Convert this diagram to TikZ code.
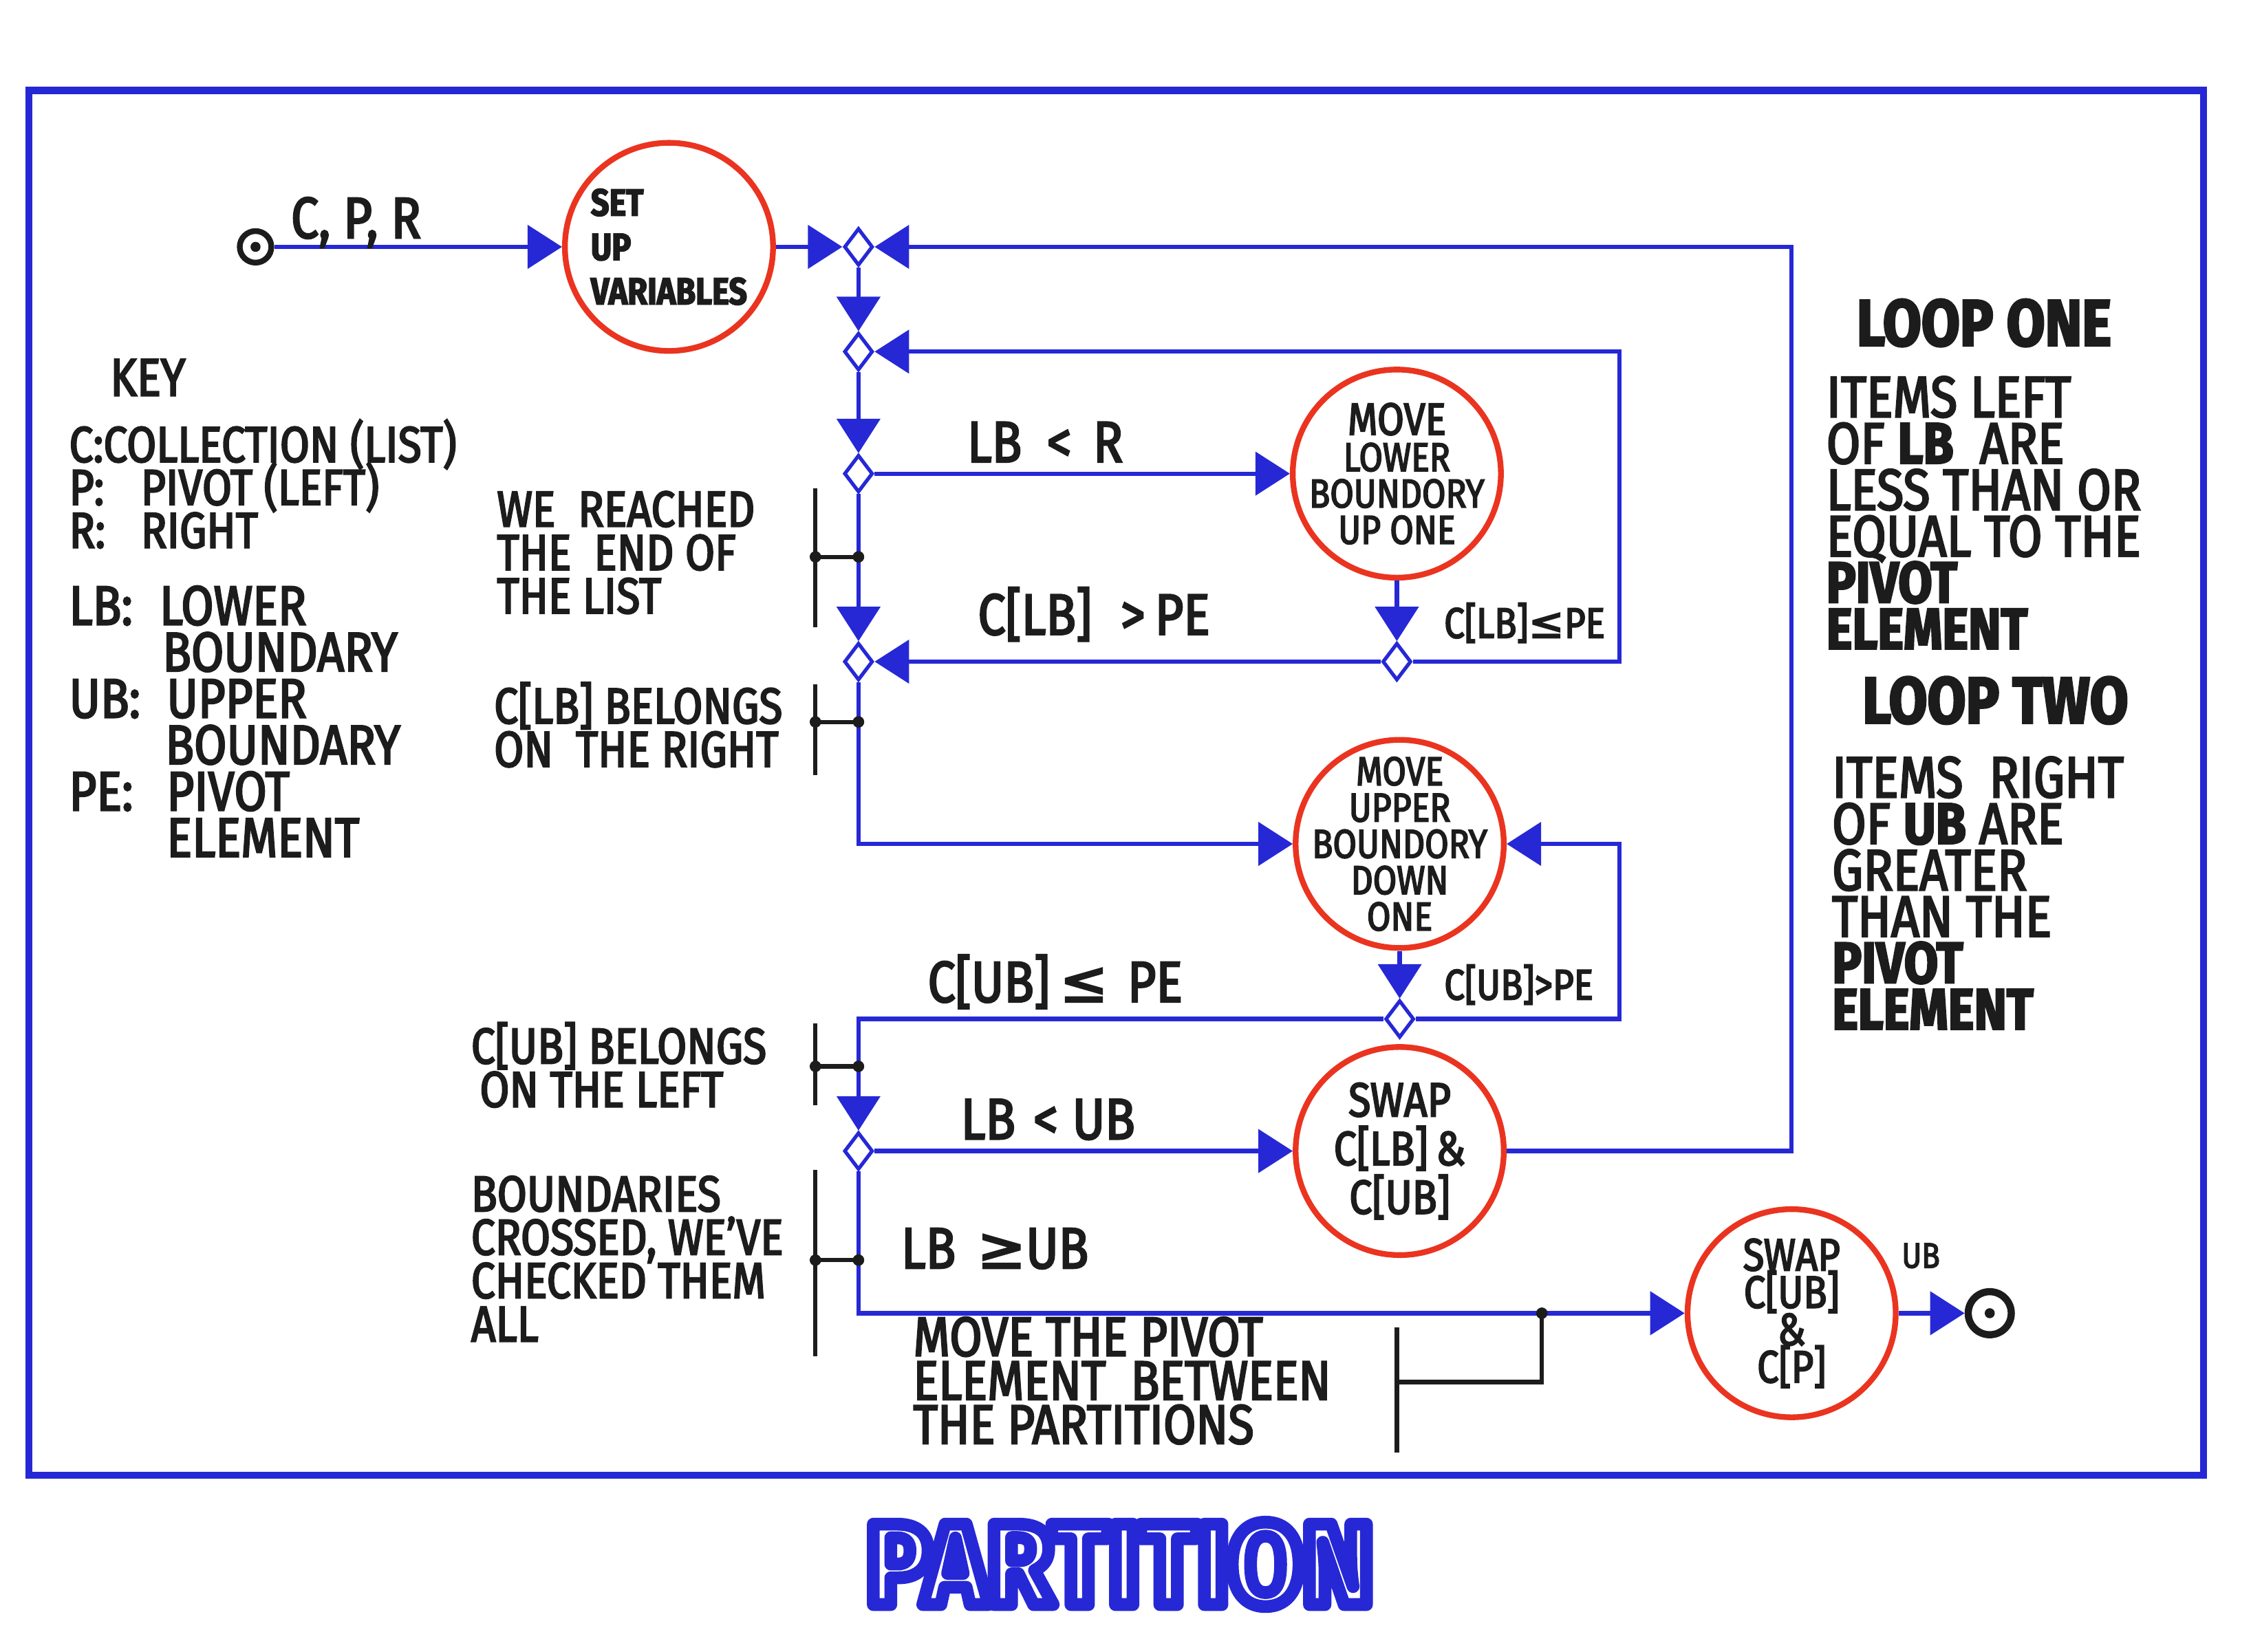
\documentclass[tikz,border=0pt]{standalone}
\usepackage{fontspec}
\setmainfont[FakeStretch=0.85, FakeBold=3]{Fira Sans}
\newfontfamily\symfont[FakeBold=3]{DejaVu Sans}
\newfontfamily\titlefont[FakeStretch=0.92, FakeBold=11]{Fira Sans}
\usetikzlibrary{shapes.geometric,arrows.meta,positioning}
\definecolor{penblue}{RGB}{38,40,214}
\definecolor{penred}{RGB}{234,52,32}
\definecolor{penink}{RGB}{28,28,28}
\newcommand{\leqs}{{\symfont ≤}}
\newcommand{\geqs}{{\symfont ≥}}
\setlength{\lineskiplimit}{-\maxdimen}
\tikzset{
  frame/.style={draw=penblue, line width=1mm},
  flow/.style={draw=penblue, line width=0.6mm, -{Triangle[length=4.8mm,width=6mm]}},
  process/.style={circle, draw=penred, line width=0.8mm, minimum size=29mm,
    inner sep=-3.5mm, align=center, text=penink, font=\fontsize{16}{14.4}\selectfont},
  junction/.style={diamond, draw=penblue, fill=white, line width=0.5mm,
    minimum width=4mm, minimum height=5.2mm, inner sep=0pt},
  terminal/.style={circle, draw=penink, line width=0.8mm, inner sep=0pt,
    path picture={\fill[penink] (path picture bounding box.center) circle (0.7mm);}},
  cond/.style={text=penink, font=\fontsize{23}{23}\selectfont},
  smallcond/.style={text=penink, font=\fontsize{17}{17}\selectfont},
  note/.style={text=penink, align=left, font=\fontsize{20}{17.2}\selectfont},
  keytext/.style={text=penink, align=left, font=\fontsize{22}{18.4}\selectfont},
  heading/.style={text=penink, font=\fontsize{26}{26}\selectfont\bfseries},
  side/.style={text=penink, align=left, font=\fontsize{23}{18.4}\selectfont},
  brace/.style={draw=penink, line width=0.6mm},
  tick/.style={circle, fill=penink, inner sep=0pt, minimum size=1.6mm}
}
\begin{document}
\begin{tikzpicture}[x=0.2mm, y=-0.2mm]
\useasboundingbox (0,0) rectangle (1568,1151);
\draw[frame] (20,63) rectangle (1535,1028);

% processes
\node[terminal, minimum size=4.4mm] (start) at (178,172) {};
\node[process, font=\fontsize{15}{17.6}\selectfont\bfseries, align=left] (setup) at (466,172) {SET\\UP\\VARIABLES};
\node[process] (lower) at (973,330) {\fontsize{18}{14}\selectfont MOVE\\LOWER\\BOUNDORY\\UP ONE};
\node[process] (upper) at (975,588) {MOVE\\UPPER\\BOUNDORY\\DOWN\\ONE};
\node[process, font=\fontsize{19}{19.3}\selectfont] (swap) at (975,802) {SWAP\\C[LB]\,\&\\C[UB]};
\node[process, font=\fontsize{18}{14.8}\selectfont] (swaptwo) at (1248,915) {SWAP\\C[UB]\\\&\\C[P]};
\node[terminal, minimum size=6mm, line width=1mm] (finish) at (1386,915) {};

% junctions
\node[junction] (jtop) at (598,172) {};
\node[junction] (jloop) at (598,245) {};
\node[junction] (jlbr) at (598,330) {};
\node[junction] (jright) at (598,461) {};
\node[junction] (jlbpe) at (973,461) {};
\node[junction] (jubpe) at (975,710) {};
\node[junction] (jlbub) at (598,802) {};

\coordinate (outer) at (1248,500);
\coordinate (inner) at (1128,400);

% connectors
\draw[flow] (start) -- (setup);
\draw[flow] (setup) -- (jtop);
\draw[flow] (jtop) -- (jloop);
\draw[flow] (jloop) -- (jlbr);
\draw[flow] (jlbr) -- (lower);
\draw[flow] (jlbr) -- (jright);
\draw[flow] (lower) -- (jlbpe);
\draw[flow] (jlbpe) -- (jright);
\draw[flow] (jlbpe) -- (jlbpe -| inner) |- (jloop);
\draw[flow] (jright) |- (upper);
\draw[flow] (upper) -- (jubpe);
\draw[flow] (jubpe) -- (jubpe -| inner) |- (upper);
\draw[flow] (jubpe) -| (jlbub);
\draw[flow] (jlbub) -- (swap);
\draw[flow] (jlbub) |- (swaptwo);
\draw[flow] (swap) -- (swap -| outer) |- (jtop);
\draw[flow] (swaptwo) -- (finish);

% conditions
\node[cond] (cpr) at (248,155) {C, P, R};
\node[cond] (lbr) at (728,308) {LB\hspace{3.5mm}<\hspace{3mm}R};
\node[cond] (lbgt) at (762,428) {C[LB]\hspace{4mm}>\,PE};
\node[smallcond] (lble) at (1062,434) {C[LB]\leqs PE};
\node[cond] (uble) at (735,684) {C[UB]\,\leqs\,\,PE};
\node[smallcond] (ubgt) at (1058,686) {C[UB]>PE};
\node[cond] (lbub) at (730,780) {LB\hspace{2.5mm}<\hspace{2mm}UB};
\node[cond] (lbgeub) at (693,870) {LB\hspace{3mm}\geqs UB};
\node[smallcond, font=\fontsize{14}{14}\selectfont] (ub) at (1338,875) {UB};

% notes with brackets
\node[note, anchor=west] (reached) at (340,385) {WE\ \ REACHED\\THE\ \ END OF\\THE LIST};
\node[note, anchor=west] (belongsr) at (338,505) {C[LB] BELONGS\\ON\ \ THE RIGHT};
\node[note, anchor=west] (belongsl) at (322,742) {C[UB] BELONGS\\\hspace*{1.2mm}ON THE LEFT};
\node[note, anchor=west] (crossed) at (322,877) {BOUNDARIES\\CROSSED, WE'VE\\CHECKED THEM\\ALL};
\node[note, anchor=west, font=\fontsize{22}{17.4}\selectfont] (movepivot) at (630,962) {MOVE THE PIVOT\\ELEMENT\ \ BETWEEN\\THE PARTITIONS};
\foreach \ya/\yb/\yc in {340/437/388, 477/540/503, 713/770/743, 815/945/878} {
  \draw[brace] (568,\ya) -- (568,\yb);
  \draw[brace] (568,\yc) -- (598,\yc);
  \node[tick] at (568,\yc) {};
  \node[tick] at (598,\yc) {};
}
\draw[brace] (973,925) -- (973,1012);
\draw[brace] (973,963) -- (1074,963) -- (1074,915);
\node[tick] at (1074,915) {};

% key
\node[note, font=\fontsize{21}{21}\selectfont] (key) at (103,263) {KEY};
\node[note, anchor=north west, font=\fontsize{20}{17}\selectfont] (keyone) at (42,286)
  {C:COLLECTION (LIST)\\\makebox[10mm][l]{P:}PIVOT (LEFT)\\\makebox[10mm][l]{R:}RIGHT};
\node[keytext, anchor=north west] (keytwo) at (42,402)
  {\makebox[12.6mm][l]{LB:}LOWER\\\hspace*{13mm}BOUNDARY\\\makebox[13.6mm][l]{UB:}UPPER\\\hspace*{13.4mm}BOUNDARY\\\makebox[13.6mm][l]{PE:}PIVOT\\\hspace*{13.6mm}ELEMENT};

% loop descriptions
\node[heading] (loopone) at (1382,225) {LOOP ONE};
\node[side, anchor=north west] (ruleone) at (1266,256)
  {ITEMS LEFT\\OF \textbf{LB}\ \ ARE\\LESS THAN OR\\EQUAL TO THE\\\textbf{PIVOT}\\\textbf{ELEMENT}};
\node[heading] (looptwo) at (1390,488) {LOOP TWO};
\node[side, anchor=north west] (ruletwo) at (1270,521)
  {ITEMS\ \ RIGHT\\OF \textbf{UB} ARE\\GREATER\\THAN THE\\\textbf{PIVOT}\\\textbf{ELEMENT}};

% title
\node (title) at (780,1090) {\titlefont\fontsize{46}{46}\selectfont\bfseries\special{pdf:literal direct 1 j}\special{pdf:bcolor [1 1 1] [0.149 0.157 0.839]}PARTITION\special{pdf:ecolor}};
\end{tikzpicture}
\end{document}
